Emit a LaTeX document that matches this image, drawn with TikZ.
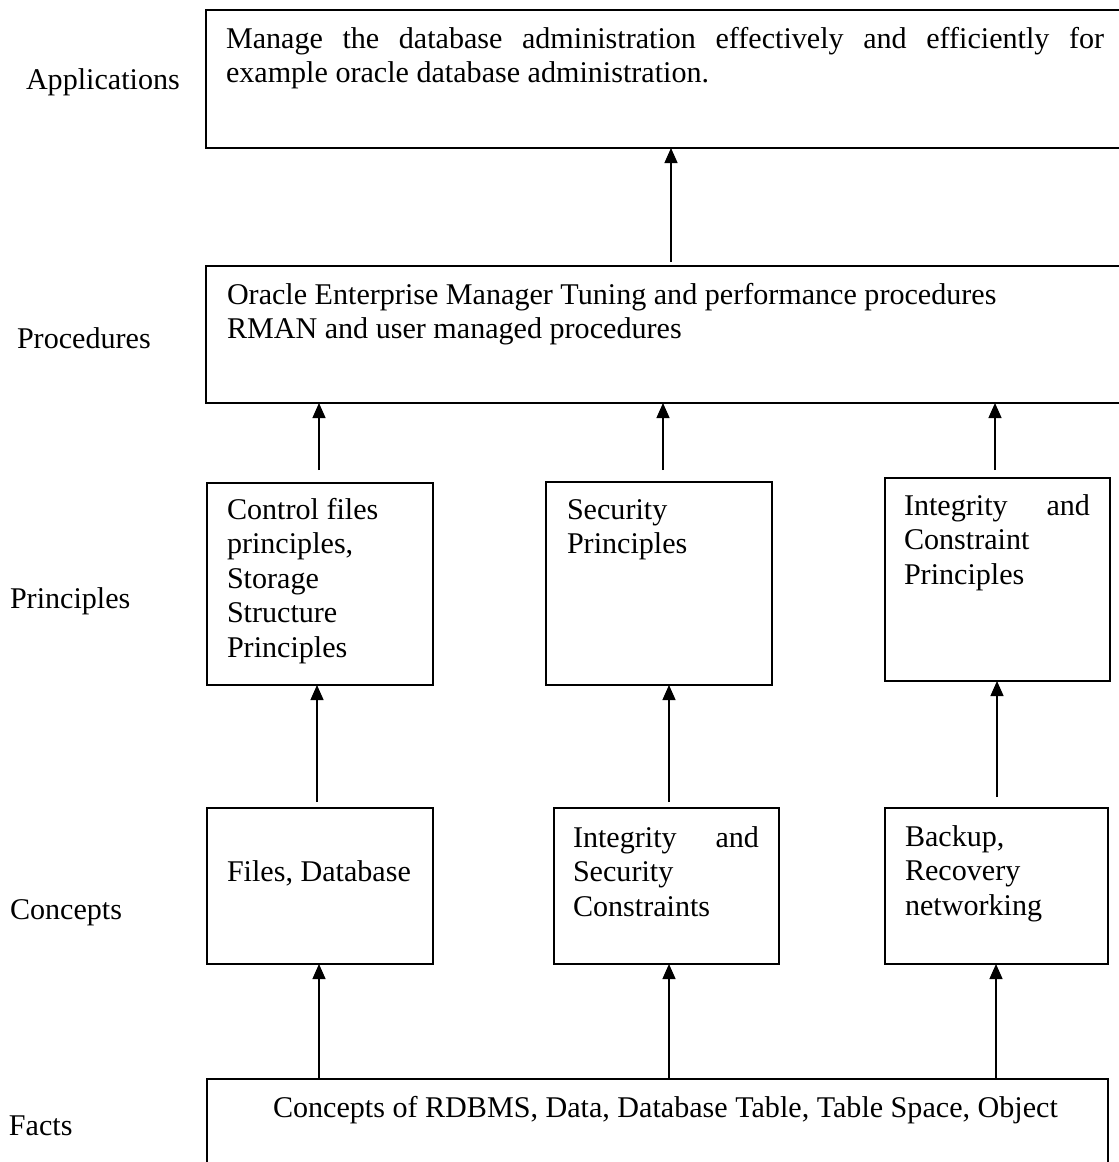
\documentclass[tikz,border=0pt]{standalone}
\usepackage{fontspec}
\setmainfont{Liberation Serif}
\usetikzlibrary{arrows.meta}
\newcommand\bigfs{\fontsize{30.1pt}{34.6pt}\selectfont}
\tikzset{
  box/.style={draw, line width=1.5pt, inner sep=0pt, outer sep=0pt, anchor=north west},
  txt/.style={anchor=base west, inner sep=0pt, outer sep=0pt, font=\bigfs},
  arr/.style={line width=1.3pt, -{Triangle[length=15pt,width=13pt]}},
}
\begin{document}
\begin{tikzpicture}[x=1pt,y=-1pt]
\useasboundingbox (0,0) rectangle (1119,1162);
\clip (0,0) rectangle (1119,1162);
% boxes
\node[box, minimum width=919pt, minimum height=138pt] (app) at (206,10) {};
\node[box, minimum width=919pt, minimum height=137pt] (proc) at (206,266) {};
\node[box, minimum width=226pt, minimum height=202pt] (p1) at (207,483) {};
\node[box, minimum width=226pt, minimum height=203pt] (p2) at (546,482) {};
\node[box, minimum width=225pt, minimum height=203pt] (p3) at (885,478) {};
\node[box, minimum width=226pt, minimum height=156pt] (c1) at (207,808) {};
\node[box, minimum width=225pt, minimum height=156pt] (c2) at (554,808) {};
\node[box, minimum width=223pt, minimum height=156pt] (c3) at (885,808) {};
\node[box, minimum width=901pt, minimum height=100pt] (facts) at (207,1079) {};
% box texts
\node[txt] (tapp) at (226,48) {\parbox[t]{878pt}{\makebox[\linewidth][s]{Manage the database administration effectively and efficiently for}\\example oracle database administration.}};
\node[txt] (tproc) at (227,304) {\parbox[t]{880pt}{Oracle Enterprise Manager Tuning and performance procedures\\RMAN and user managed procedures}};
\node[txt] (tp1) at (227,519) {\parbox[t]{186pt}{Control files\\principles,\\Storage\\Structure\\Principles}};
\node[txt] (tp2) at (567,519) {\parbox[t]{186pt}{Security\\Principles}};
\node[txt] (tp3) at (904,515) {\parbox[t]{186pt}{\makebox[\linewidth][s]{Integrity and}\\Constraint\\Principles}};
\node[txt] (tc1) at (227,881) {Files, Database};
\node[txt] (tc2) at (573,847) {\parbox[t]{186pt}{\makebox[\linewidth][s]{Integrity and}\\Security\\Constraints}};
\node[txt] (tc3) at (905,846) {\parbox[t]{186pt}{Backup,\\Recovery\\networking}};
\node[txt] (tf) at (273,1117) {Concepts of RDBMS, Data, Database Table, Table Space, Object};
% level labels
\node[txt] (lapp) at (26,89) {Applications};
\node[txt] (lproc) at (17,348) {Procedures};
\node[txt] (lprin) at (10,608) {Principles};
\node[txt] (lconc) at (10,919) {Concepts};
\node[txt] (lfact) at (9,1135) {Facts};
% arrow tails
\coordinate (a0) at (671,262);
\coordinate (a1) at (319,470);
\coordinate (a2) at (663,470);
\coordinate (a3) at (995,470);
\coordinate (b1) at (317,802);
\coordinate (b2) at (669,802);
\coordinate (b3) at (997,797);
\coordinate (f1) at (319,0);
\coordinate (f2) at (669,0);
\coordinate (f3) at (996,0);
% arrows
\draw[arr] (a0) -- (a0 |- app.south);
\draw[arr] (a1) -- (a1 |- proc.south);
\draw[arr] (a2) -- (a2 |- proc.south);
\draw[arr] (a3) -- (a3 |- proc.south);
\draw[arr] (b1) -- (b1 |- p1.south);
\draw[arr] (b2) -- (b2 |- p2.south);
\draw[arr] (b3) -- (b3 |- p3.south);
\draw[arr] (f1 |- facts.north) -- (f1 |- c1.south);
\draw[arr] (f2 |- facts.north) -- (f2 |- c2.south);
\draw[arr] (f3 |- facts.north) -- (f3 |- c3.south);
\end{tikzpicture}
\end{document}
